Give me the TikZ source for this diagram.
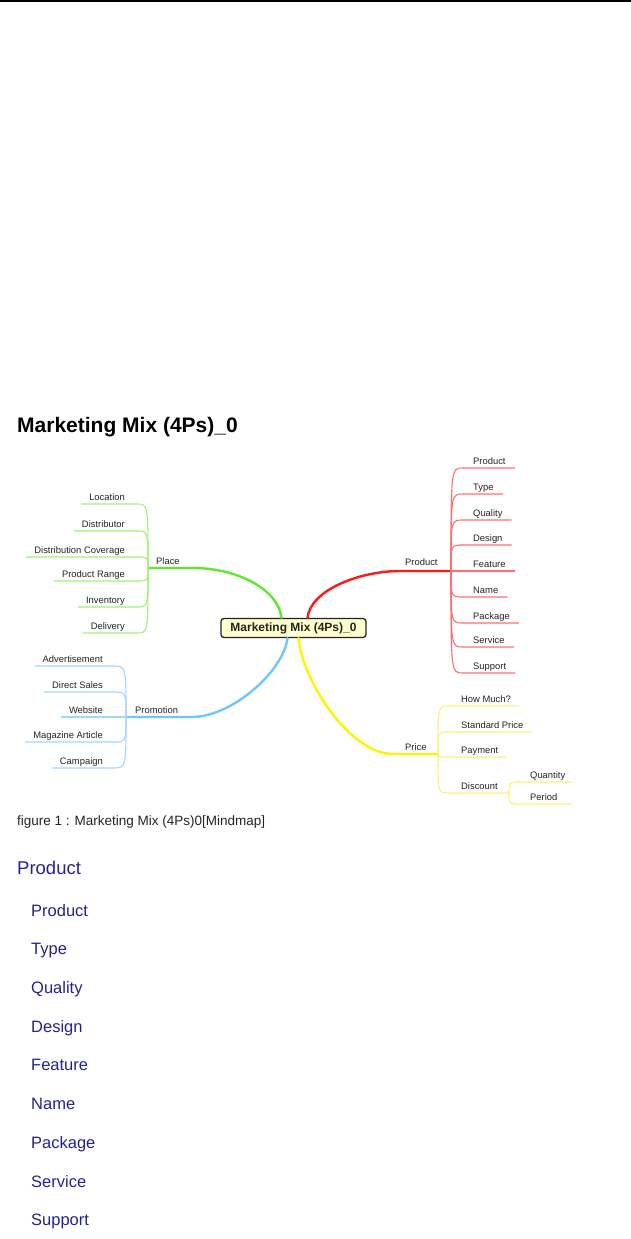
\documentclass[tikz,border=0pt]{standalone}
\usepackage{fontspec}
\setmainfont{Liberation Sans}
\usepackage{tikz}

\definecolor{inkgray}{RGB}{35,35,35}
\definecolor{placegreen}{RGB}{95,232,45}
\definecolor{placelight}{RGB}{160,240,120}
\definecolor{prodred}{RGB}{255,25,25}
\definecolor{prodlight}{RGB}{255,110,110}
\definecolor{promoblue}{RGB}{110,200,255}
\definecolor{promolight}{RGB}{160,215,250}
\definecolor{priceyellow}{RGB}{255,245,0}
\definecolor{pricelight}{RGB}{255,240,120}
\definecolor{boxfill}{RGB}{255,255,205}
\definecolor{listblue}{RGB}{35,35,145}

\tikzset{
  leaf/.style={inner xsep=0pt, inner ysep=1.5pt, text height=7pt, text depth=2pt,
    font=\fontsize{9.4}{10}\selectfont, text=inkgray},
  hubbox/.style={draw=inkgray, line width=1.3pt, fill=boxfill, rounded corners=3pt,
    minimum width=145pt, minimum height=19pt, inner sep=0pt,
    font=\fontsize{12}{13}\selectfont\bfseries, text=inkgray},
  mainline/.style={line width=2.4pt, line cap=round},
  subline/.style={line width=1.1pt},
}

\begin{document}
\begin{tikzpicture}[x=1pt, y=-1pt]
    \useasboundingbox (0,0) rectangle (631,1239);

    % Rule at the top of the page
    \draw[line width=1.6pt] (0,1) -- (631,1);

    % Title
    \node[anchor=base west, inner sep=0pt, font=\fontsize{21}{24}\selectfont\bfseries] (title) at (17,432) {Marketing Mix (4Ps)\_0};

    % Central topic
    \node[hubbox] (mix) at (293.5,628) {Marketing Mix (4Ps)\_0};

    % Junctions of the four branches
    \coordinate (placej) at (148,568);
    \coordinate (promoj) at (126,717);
    \coordinate (prodj) at (451,571);
    \coordinate (pricej) at (438,754);

    % Main branches
    \draw[mainline, placegreen] ([xshift=-12pt]mix.north) .. controls +(-3,-28) and (238,568) .. (193,568) -- (placej);
    \draw[mainline, prodred] ([xshift=14pt]mix.north) .. controls +(3,-28) and (360,571) .. (400,571) -- (prodj);
    \draw[mainline, promoblue] ([xshift=-6pt]mix.south) .. controls +(-4,33) and (232,717) .. (192,717) -- (promoj);
    \draw[mainline, priceyellow] ([xshift=5pt]mix.south) .. controls +(4,43) and (350,754) .. (393,754) -- (pricej);

    % Branch labels
    \node[leaf, anchor=south west] (place) at (156,568) {Place};
    \node[leaf, anchor=south west] (promo) at (135,717) {Promotion};
    \node[leaf, anchor=south west] (prod) at (405,569) {Product};
    \node[leaf, anchor=south west] (price) at (405,754) {Price};

    % Place
    \node[leaf, anchor=south east] (loc) at (125,504) {Location};
    \node[leaf, anchor=south east] (dist) at (125,531) {Distributor};
    \node[leaf, anchor=south east] (cov) at (125,557) {Distribution Coverage};
    \node[leaf, anchor=south east] (range) at (125,581) {Product Range};
    \node[leaf, anchor=south east] (inv) at (125,607) {Inventory};
    \node[leaf, anchor=south east] (deliv) at (125,633) {Delivery};
    \draw[subline, placelight] ([xshift=-8pt]loc.south west) -- ([xshift=12pt]loc.south east) .. controls (loc.south -| placej) .. (placej);
    \draw[subline, placelight] ([xshift=-8pt]dist.south west) -- ([xshift=12pt]dist.south east) .. controls (dist.south -| placej) .. (placej);
    \draw[subline, placelight] ([xshift=-8pt]cov.south west) -- ([xshift=12pt]cov.south east) .. controls (cov.south -| placej) .. (placej);
    \draw[subline, placelight] ([xshift=-8pt]range.south west) -- ([xshift=12pt]range.south east) .. controls (range.south -| placej) .. (placej);
    \draw[subline, placelight] ([xshift=-8pt]inv.south west) -- ([xshift=12pt]inv.south east) .. controls (inv.south -| placej) .. (placej);
    \draw[subline, placelight] ([xshift=-8pt]deliv.south west) -- ([xshift=12pt]deliv.south east) .. controls (deliv.south -| placej) .. (placej);

    % Promotion
    \node[leaf, anchor=south east] (adv) at (103,666) {Advertisement};
    \node[leaf, anchor=south east] (direct) at (103,692) {Direct Sales};
    \node[leaf, anchor=south east] (web) at (103,717) {Website};
    \node[leaf, anchor=south east] (mag) at (103,742) {Magazine Article};
    \node[leaf, anchor=south east] (camp) at (103,768) {Campaign};
    \draw[subline, promolight] ([xshift=-8pt]adv.south west) -- ([xshift=10pt]adv.south east) .. controls (adv.south -| promoj) .. (promoj);
    \draw[subline, promolight] ([xshift=-8pt]direct.south west) -- ([xshift=10pt]direct.south east) .. controls (direct.south -| promoj) .. (promoj);
    \draw[subline, promolight] ([xshift=-8pt]web.south west) -- (promoj);
    \draw[subline, promolight] ([xshift=-8pt]mag.south west) -- ([xshift=10pt]mag.south east) .. controls (mag.south -| promoj) .. (promoj);
    \draw[subline, promolight] ([xshift=-8pt]camp.south west) -- ([xshift=10pt]camp.south east) .. controls (camp.south -| promoj) .. (promoj);

    % Product
    \node[leaf, anchor=south west] (p1) at (473,468) {Product};
    \node[leaf, anchor=south west] (type) at (473,494) {Type};
    \node[leaf, anchor=south west] (qual) at (473,520) {Quality};
    \node[leaf, anchor=south west] (design) at (473,545) {Design};
    \node[leaf, anchor=south west] (feat) at (473,571) {Feature};
    \node[leaf, anchor=south west] (name) at (473,597) {Name};
    \node[leaf, anchor=south west] (pack) at (473,623) {Package};
    \node[leaf, anchor=south west] (serv) at (473,647) {Service};
    \node[leaf, anchor=south west] (supp) at (473,673) {Support};
    \draw[subline, prodlight] (prodj) .. controls (p1.south -| prodj) .. ([xshift=-10pt]p1.south west) -- ([xshift=9pt]p1.south east);
    \draw[subline, prodlight] (prodj) .. controls (type.south -| prodj) .. ([xshift=-10pt]type.south west) -- ([xshift=9pt]type.south east);
    \draw[subline, prodlight] (prodj) .. controls (qual.south -| prodj) .. ([xshift=-10pt]qual.south west) -- ([xshift=9pt]qual.south east);
    \draw[subline, prodlight] (prodj) .. controls (design.south -| prodj) .. ([xshift=-10pt]design.south west) -- ([xshift=9pt]design.south east);
    \draw[subline, prodlight] (prodj) -- ([xshift=9pt]feat.south east);
    \draw[subline, prodlight] (prodj) .. controls (name.south -| prodj) .. ([xshift=-10pt]name.south west) -- ([xshift=9pt]name.south east);
    \draw[subline, prodlight] (prodj) .. controls (pack.south -| prodj) .. ([xshift=-10pt]pack.south west) -- ([xshift=9pt]pack.south east);
    \draw[subline, prodlight] (prodj) .. controls (serv.south -| prodj) .. ([xshift=-10pt]serv.south west) -- ([xshift=9pt]serv.south east);
    \draw[subline, prodlight] (prodj) .. controls (supp.south -| prodj) .. ([xshift=-10pt]supp.south west) -- ([xshift=9pt]supp.south east);

    % Price
    \node[leaf, anchor=south west] (much) at (461,706) {How Much?};
    \node[leaf, anchor=south west] (std) at (461,732) {Standard Price};
    \node[leaf, anchor=south west] (pay) at (461,757) {Payment};
    \node[leaf, anchor=south west] (disc) at (461,793) {Discount};
    \coordinate (discj) at ([xshift=11pt]disc.south east);
    \node[leaf, anchor=south west] (qty) at (530,782) {Quantity};
    \node[leaf, anchor=south west] (period) at (530,804) {Period};
    \draw[subline, pricelight] (pricej) .. controls (much.south -| pricej) .. ([xshift=-13pt]much.south west) -- ([xshift=8pt]much.south east);
    \draw[subline, pricelight] (pricej) .. controls (std.south -| pricej) .. ([xshift=-13pt]std.south west) -- ([xshift=8pt]std.south east);
    \draw[subline, pricelight] (pricej) .. controls (pay.south -| pricej) .. ([xshift=-13pt]pay.south west) -- ([xshift=8pt]pay.south east);
    \draw[subline, pricelight] (pricej) .. controls (disc.south -| pricej) .. ([xshift=-13pt]disc.south west) -- (discj);
    \draw[subline, pricelight] (discj) .. controls (qty.south -| discj) .. ([xshift=-10pt]qty.south west) -- ([xshift=7pt]qty.south east);
    \draw[subline, pricelight] (discj) .. controls (period.south -| discj) .. ([xshift=-10pt]period.south west) -- ([xshift=15pt]period.south east);

    % Caption
    \node[anchor=base west, inner sep=0pt, font=\fontsize{13.5}{15}\selectfont, text=inkgray] (caption) at (17,825) {figure 1 : Marketing Mix (4Ps)0[Mindmap]};

    % Outline of the Product topic
    \node[anchor=base west, inner sep=0pt, font=\fontsize{18.5}{22}\selectfont, text=listblue] (head) at (17,874) {Product};
    \node[anchor=base west, inner sep=0pt, font=\fontsize{16.5}{20}\selectfont, text=listblue] (l1) at (31,916) {Product};
    \node[anchor=base west, inner sep=0pt, font=\fontsize{16.5}{20}\selectfont, text=listblue] (l2) at (31,954) {Type};
    \node[anchor=base west, inner sep=0pt, font=\fontsize{16.5}{20}\selectfont, text=listblue] (l3) at (31,993) {Quality};
    \node[anchor=base west, inner sep=0pt, font=\fontsize{16.5}{20}\selectfont, text=listblue] (l4) at (31,1032) {Design};
    \node[anchor=base west, inner sep=0pt, font=\fontsize{16.5}{20}\selectfont, text=listblue] (l5) at (31,1070) {Feature};
    \node[anchor=base west, inner sep=0pt, font=\fontsize{16.5}{20}\selectfont, text=listblue] (l6) at (31,1109) {Name};
    \node[anchor=base west, inner sep=0pt, font=\fontsize{16.5}{20}\selectfont, text=listblue] (l7) at (31,1148) {Package};
    \node[anchor=base west, inner sep=0pt, font=\fontsize{16.5}{20}\selectfont, text=listblue] (l8) at (31,1187) {Service};
    \node[anchor=base west, inner sep=0pt, font=\fontsize{16.5}{20}\selectfont, text=listblue] (l9) at (31,1225) {Support};

\end{tikzpicture}
\end{document}
